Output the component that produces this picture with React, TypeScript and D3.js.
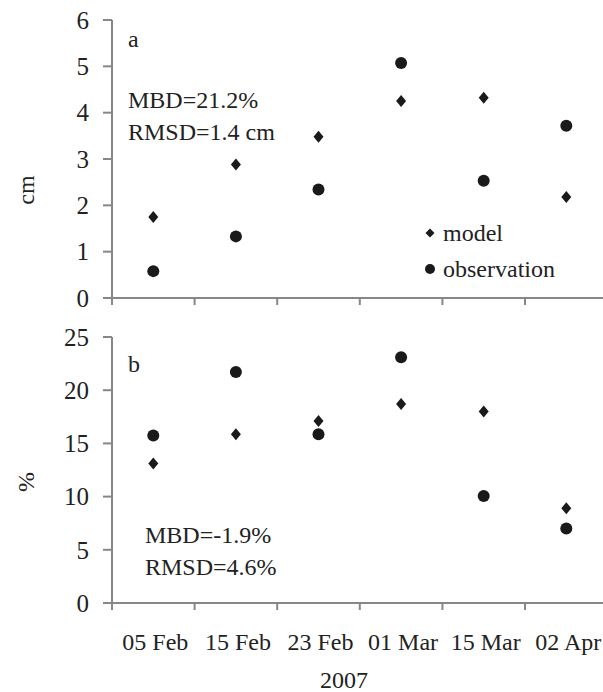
import React from "react";
import * as d3 from "d3";

const categories = ["05 Feb", "15 Feb", "23 Feb", "01 Mar", "15 Mar", "02 Apr"];
const depthModel = [1.75, 2.88, 3.48, 4.25, 4.32, 2.18];
const depthObs = [0.58, 1.33, 2.34, 5.07, 2.53, 3.72];
const moistModel = [13.1, 15.85, 17.1, 18.7, 18.0, 8.9];
const moistObs = [15.75, 21.7, 15.85, 23.1, 10.05, 7.0];
const depthTicks = [0, 1, 2, 3, 4, 5, 6];
const moistTicks = [0, 5, 10, 15, 20, 25];

const W = 603;
const H = 692;
const FONT = "'Liberation Serif', 'Times New Roman', serif";
const AXIS = "#878787";
const MARK = "#1a1a1a";

const x = d3.scaleBand<string>().domain(categories).range([112, 112 + 6 * 82.6]).padding(0);
const yTop = d3.scaleLinear().domain([0, 6]).range([298, 20]);
const yBot = d3.scaleLinear().domain([0, 25]).range([603, 337]);

const diamond = (cx: number, cy: number, w: number, h: number) =>
  `M${cx},${cy - h / 2}L${cx + w / 2},${cy}L${cx},${cy + h / 2}L${cx - w / 2},${cy}Z`;

function Panel({ y, ticks, model, obs }: { y: d3.ScaleLinear<number, number>; ticks: number[]; model: number[]; obs: number[] }) {
  const y0 = y.range()[0];
  const y1 = y.range()[1];
  const x0 = x.range()[0];
  const bounds = d3.range(categories.length + 1).map((i) => x0 + i * x.bandwidth());
  return (
    <g>
      <line x1={x0} x2={x0} y1={y1} y2={y0} stroke={AXIS} strokeWidth={2} />
      <line x1={x0} x2={W} y1={y0} y2={y0} stroke={AXIS} strokeWidth={2} />
      {ticks.map((t) => (
        <g key={t}>
          <line x1={x0 - 9} x2={x0} y1={y(t)} y2={y(t)} stroke={AXIS} strokeWidth={2} />
          <text x={89} y={y(t)} dy="0.35em" textAnchor="end" fontFamily={FONT} fontSize={25} fill="#222">{t}</text>
        </g>
      ))}
      {bounds.map((b, i) => (
        <line key={i} x1={b} x2={b} y1={y0} y2={y0 + 7} stroke={AXIS} strokeWidth={2} />
      ))}
      {categories.map((c, i) => (
        <g key={c}>
          <path d={diamond(x(c)! + x.bandwidth() / 2, y(model[i]), 10, 12)} fill={MARK} />
          <circle cx={x(c)! + x.bandwidth() / 2} cy={y(obs[i])} r={6} fill={MARK} />
        </g>
      ))}
    </g>
  );
}

export default function App() {
  return (
    <svg width={W} height={H} style={{ position: "absolute", left: 0, top: 0, background: "#fff" }}>
      <rect width={W} height={H} fill="#fff" />
      <Panel y={yTop} ticks={depthTicks} model={depthModel} obs={depthObs} />
      <Panel y={yBot} ticks={moistTicks} model={moistModel} obs={moistObs} />
      <g fontFamily={FONT} fontSize={24} fill="#222">
        <text x={128} y={47}>a</text>
        <text x={128} y={108}>MBD=21.2%</text>
        <text x={128} y={140}>RMSD=1.4 cm</text>
        <text x={128} y={372}>b</text>
        <text x={145} y={543}>MBD=-1.9%</text>
        <text x={145} y={575}>RMSD=4.6%</text>
        <text transform="translate(34,190) rotate(-90)" textAnchor="middle">cm</text>
        <text transform="translate(34,482) rotate(-90)" textAnchor="middle">%</text>
        <path d={diamond(430, 233, 9, 9)} fill={MARK} />
        <text x={443} y={241}>model</text>
        <circle cx={430} cy={269} r={5} fill={MARK} />
        <text x={443} y={277}>observation</text>
        {categories.map((c) => (
          <text key={c} x={x(c)! + x.bandwidth() / 2 + 2} y={650} textAnchor="middle">{c}</text>
        ))}
        <text x={344} y={688} textAnchor="middle">2007</text>
      </g>
    </svg>
  );
}
